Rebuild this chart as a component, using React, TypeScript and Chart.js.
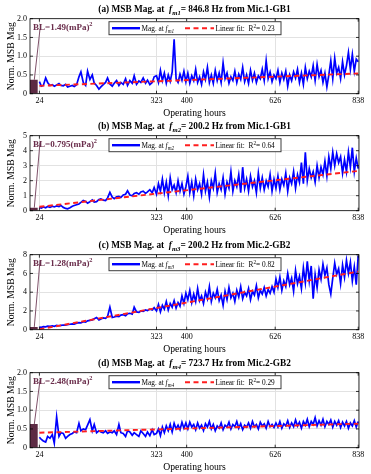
import React, { useEffect, useRef } from "react";
import { Chart, registerables } from "chart.js";
Chart.register(...registerables);

// ---------- data ----------
const HOURS = [
  24, 29, 34, 40, 45, 51, 57, 62, 68, 74,
  79, 85, 91, 96, 102, 108, 113, 119, 125, 130,
  136, 142, 147, 153, 159, 164, 170, 176, 181, 187,
  193, 198, 204, 210, 215, 221, 227, 232, 238, 244,
  249, 255, 261, 266, 272, 278, 283, 289, 295, 300,
  306, 312, 317,
  323, 328, 333, 338, 343, 348, 353, 358, 363, 368,
  373, 378, 383, 388, 393, 398, 403, 408, 413, 418,
  423, 428, 433, 438, 443, 448, 453, 458, 463, 468,
  473, 478, 483, 488, 493, 498, 503, 508, 513, 518,
  523, 528, 533, 538, 543, 548, 553, 558, 563, 568,
  573, 578, 583, 588, 593, 598, 603, 608, 613, 618,
  623, 628, 633, 638, 643, 648, 653, 658, 663, 668,
  673, 678, 683, 688, 693, 698, 703, 708, 713, 718,
  723, 728, 733, 738, 743, 748, 753, 758, 763, 768,
  773, 778, 783, 788, 793, 798, 803, 808, 813, 818,
  823, 828, 833, 838,
];

const MAG_A = [
  0.32, 0.20, 0.22, 0.42, 0.30, 0.22, 0.24, 0.20, 0.23, 0.27,
  0.22, 0.21, 0.25, 0.18, 0.20, 0.22, 0.19, 0.24, 0.45, 0.58,
  0.30, 0.22, 0.60, 0.38, 0.50, 0.28, 0.22, 0.12, 0.18, 0.24,
  0.30, 0.42, 0.26, 0.20, 0.28, 0.35, 0.22, 0.30, 0.25, 0.40,
  0.22, 0.35, 0.28, 0.48, 0.25, 0.34, 0.30, 0.42, 0.28, 0.36,
  0.24, 0.30, 0.45,
  0.48, 0.30, 0.62, 0.35, 0.55, 0.28, 0.50, 0.33, 0.58, 1.45,
  0.40, 0.30, 0.52, 0.36, 0.60, 0.32, 0.55, 0.28, 0.48, 0.35,
  0.65, 0.30, 0.45, 0.25, 0.58, 0.38, 0.70, 0.30, 0.50, 0.28,
  0.62, 0.35, 0.55, 0.30, 0.82, 0.40, 0.55, 0.28, 0.45, 0.35,
  0.60, 0.30, 0.52, 0.38, 0.70, 0.32, 0.50, 0.28, 0.62, 0.36,
  0.55, 0.30, 0.48, 0.40, 0.65, 0.35, 0.88, 0.40, 0.58, 0.32,
  0.50, 0.40, 0.62, 0.30, 0.55, 0.38, 0.60, 0.20, 0.50, 0.35,
  0.58, 0.42, 0.65, 0.30, 0.55, 0.25, 0.70, 0.40, 0.60, 0.45,
  0.75, 0.35, 0.78, 0.45, 0.62, 0.30, 0.55, 0.18, 0.50, 0.88,
  0.40, 0.95, 0.55, 0.70, 0.40, 0.85, 0.50, 0.75, 1.10, 0.65,
  1.05, 0.60, 0.92, 0.85,
];

const MAG_B = [
  0.22, 0.18, 0.25, 0.20, 0.28, 0.22, 0.30, 0.25, 0.32, 0.28,
  0.35, 0.22, 0.15, 0.13, 0.20, 0.30, 0.35, 0.40, 0.45, 0.55,
  0.68, 0.62, 0.50, 0.60, 0.72, 0.57, 0.60, 0.75, 0.79, 0.70,
  0.68, 0.85, 1.22, 0.90, 0.80, 0.92, 0.96, 0.88, 1.05, 1.10,
  1.33, 1.05, 1.00, 1.15, 1.20, 1.10, 1.25, 1.30, 1.15, 1.25,
  1.40, 1.20, 1.55,
  1.10, 1.80, 1.30, 2.10, 1.20, 1.90, 1.00, 2.20, 1.40, 1.70,
  1.20, 2.00, 1.30, 1.80, 1.10, 1.60, 2.30, 1.20, 1.90, 1.00,
  2.10, 1.40, 1.80, 1.10, 2.40, 1.30, 1.90, 0.90, 2.00, 1.50,
  2.50, 1.20, 1.80, 1.40, 2.20, 1.10, 1.90, 1.50, 2.60, 1.30,
  2.00, 1.60, 2.40, 1.20, 2.90, 1.50, 2.10, 1.30, 2.30, 1.60,
  2.00, 1.20, 2.50, 1.50, 2.20, 1.40, 2.00, 1.60, 2.40, 1.30,
  2.10, 1.50, 2.30, 1.40, 2.10, 1.70, 2.50, 1.30, 2.20, 1.80,
  2.60, 1.50, 2.40, 1.90, 3.20, 1.80, 3.90, 2.00, 2.80, 2.20,
  2.60, 1.90, 3.00, 2.20, 2.90, 2.40, 3.30, 2.30, 3.60, 2.80,
  3.90, 3.00, 3.80, 3.20, 3.60, 2.50, 3.40, 2.60, 3.90, 2.90,
  4.20, 2.60, 3.50, 2.80,
];

const MAG_C = [
  0.28, 0.25, 0.32, 0.30, 0.38, 0.35, 0.40, 0.36, 0.45, 0.42,
  0.46, 0.50, 0.48, 0.55, 0.58, 0.62, 0.60, 0.70, 0.75, 0.72,
  0.85, 0.81, 0.95, 1.00, 1.05, 1.17, 1.30, 1.05, 1.15, 1.25,
  1.20, 1.40, 2.40, 1.30, 1.35, 1.45, 1.40, 1.55, 1.60, 1.50,
  1.70, 1.75, 1.65, 2.40, 1.90, 1.85, 2.00, 1.95, 2.10, 2.05,
  2.20, 2.10, 2.35,
  2.0, 2.7, 1.9, 2.6, 2.2, 3.0, 2.1, 2.8, 2.4, 3.1,
  2.3, 2.9, 2.5, 3.6, 2.8, 3.9, 3.2, 4.2, 2.9, 3.8,
  3.0, 4.4, 3.1, 3.6, 2.8, 4.0, 3.3, 4.6, 3.0, 3.9,
  3.4, 4.3, 3.1, 3.7, 2.6, 4.1, 3.2, 4.5, 3.4, 3.9,
  3.0, 4.2, 3.5, 4.6, 3.3, 4.0, 3.6, 4.4, 3.2, 4.1,
  3.7, 4.7, 3.4, 4.2, 3.8, 4.5, 3.6, 4.3, 3.9, 4.6,
  4.0, 5.4, 4.5, 5.6, 4.2, 5.2, 4.6, 6.0, 4.8, 5.5,
  4.1, 6.3, 4.9, 5.7, 4.4, 6.6, 5.0, 7.3, 5.2, 6.8,
  3.3, 5.9, 4.5, 6.4, 5.4, 7.0, 5.8, 6.6, 4.8, 3.8,
  5.5, 7.1, 5.9, 6.5, 4.9, 6.9, 5.6, 7.4, 6.0, 7.2,
  5.2, 6.7, 4.8, 7.9,
];

const MAG_D = [
  0.28, 0.22, 0.18, 0.15, 0.30, 0.25, 0.35, 0.12, 0.82, 0.30,
  0.40, 0.38, 0.25, 0.30, 0.35, 0.38, 0.42, 0.40, 0.65, 0.45,
  0.50, 0.48, 0.60, 0.75, 0.45, 0.62, 0.40, 0.45, 0.42, 0.40,
  0.45, 0.38, 0.42, 0.40, 0.45, 0.35, 0.62, 0.40, 0.38, 0.30,
  0.45, 0.42, 0.33, 0.40, 0.35, 0.30, 0.45, 0.38, 0.30, 0.42,
  0.32, 0.48, 0.35,
  0.38, 0.50, 0.32, 0.55, 0.40, 0.58, 0.45, 0.62, 0.42, 0.65,
  0.50, 0.60, 0.48, 0.68, 0.52, 0.66, 0.50, 0.68, 0.55, 0.62,
  0.48, 0.66, 0.52, 0.60, 0.46, 0.64, 0.55, 0.70, 0.50, 0.62,
  0.45, 0.58, 0.52, 0.66, 0.48, 0.60, 0.55, 0.68, 0.50, 0.62,
  0.56, 0.70, 0.52, 0.64, 0.48, 0.60, 0.55, 0.66, 0.52, 0.70,
  0.56, 0.62, 0.50, 0.68, 0.58, 0.64, 0.52, 0.70, 0.56, 0.62,
  0.54, 0.66, 0.55, 0.70, 0.52, 0.64, 0.58, 0.72, 0.54, 0.66,
  0.56, 0.74, 0.58, 0.68, 0.52, 0.70, 0.60, 0.76, 0.56, 0.70,
  0.62, 0.80, 0.58, 0.72, 0.60, 0.76, 0.56, 0.70, 0.62, 0.74,
  0.55, 0.70, 0.60, 0.72, 0.54, 0.68, 0.58, 0.70, 0.52, 0.66,
  0.58, 0.72, 0.55, 0.70,
];

const FIT_HOURS = [24, 838];
const FIT_A = [0.21, 0.54];
const FIT_B = [0.26, 2.65];
const FIT_C = [0.05, 6.2];
const FIT_D = [0.4, 0.64];

const BL_HOURS = [0, 20];
const BL_BAR = [0.37, 0.2, 0.3, 0.63];
const BL_LINE_HOURS = [11, 25.5];
const BL_LINE_TOP = [1.72, 4.55, 7.35, 1.8];
const BL_VALUES = ["1.49", "0.795", "1.28", "2.48"];

const LETTERS = ["a", "b", "c", "d"];
const FREQS = ["846.8", "200.2", "200.2", "723.7"];
const MICS = ["Mic.1-GB1", "Mic.1-GB1", "Mic.2-GB2", "Mic.2-GB2"];
const R2 = ["0.23", "0.64", "0.82", "0.29"];

const XTICKS = [24, 323, 400, 626, 838];
const Y_MAX = [2, 5, 8, 2];
const Y_STEP = [0.5, 1, 2, 0.5];

const SERIES = [MAG_A, MAG_B, MAG_C, MAG_D];
const FITS = [FIT_A, FIT_B, FIT_C, FIT_D];

// ---------- drawing helpers ----------
const SERIF = '"Liberation Serif", "Times New Roman", serif';
const fnt = (size: number, style = "") => `${style} ${size}px ${SERIF}`.trim();

type Seg = { t: string; f: string; dy?: number };
function drawRich(ctx: CanvasRenderingContext2D, segs: Seg[], x: number, y: number, align: "left" | "center", color: string) {
  let w = 0;
  for (const s of segs) {
    ctx.font = s.f;
    w += ctx.measureText(s.t).width;
  }
  let cx = align === "center" ? x - w / 2 : x;
  ctx.fillStyle = color;
  ctx.textAlign = "left";
  ctx.textBaseline = "alphabetic";
  for (const s of segs) {
    ctx.font = s.f;
    ctx.fillText(s.t, cx, y + (s.dy || 0));
    cx += ctx.measureText(s.t).width;
  }
}

const CANVAS_W = 371;
const CANVAS_H = 118;
const CANVAS_TOPS = [0, 117, 236, 354];
const PLOT_TOP = 18.7;
const PLOT_BOTTOM = 93.7;

function makeDecor(p: number) {
  return {
    id: "decor" + p,
    afterDraw(chart: any) {
      const { ctx, chartArea: ca, scales } = chart;
      const xs = scales.x;
      const ys = scales.y;
      ctx.save();
      // box
      ctx.strokeStyle = "#000";
      ctx.lineWidth = 0.8;
      ctx.strokeRect(ca.left, ca.top, ca.right - ca.left, ca.bottom - ca.top);
      // inward tick marks
      ctx.beginPath();
      for (const v of XTICKS) {
        const px = xs.getPixelForValue(v);
        ctx.moveTo(px, ca.bottom);
        ctx.lineTo(px, ca.bottom - 3);
        ctx.moveTo(px, ca.top);
        ctx.lineTo(px, ca.top + 3);
      }
      for (const t of ys.ticks) {
        const py = ys.getPixelForValue(t.value);
        ctx.moveTo(ca.left, py);
        ctx.lineTo(ca.left + 3, py);
        ctx.moveTo(ca.right, py);
        ctx.lineTo(ca.right - 3, py);
      }
      ctx.stroke();

      const midX = (ca.left + ca.right) / 2;
      // title
      drawRich(
        ctx,
        [
          { t: `(${LETTERS[p]}) MSB Mag. at  `, f: fnt(9.3, "bold") },
          { t: "f", f: fnt(9.3, "italic bold") },
          { t: `m${p + 1}`, f: fnt(6.7, "italic bold"), dy: 2.5 },
          { t: `= ${FREQS[p]} Hz from ${MICS[p]}`, f: fnt(9.3, "bold") },
        ],
        midX,
        ca.top - 6.5,
        "center",
        "#000"
      );
      // axis titles
      ctx.fillStyle = "#000";
      ctx.font = fnt(9.7);
      ctx.textAlign = "center";
      ctx.textBaseline = "middle";
      ctx.fillText("Operating hours", midX, ca.bottom + 19.5);
      ctx.save();
      ctx.translate(11.7, (ca.top + ca.bottom) / 2);
      ctx.rotate(-Math.PI / 2);
      ctx.fillText("Norm. MSB Mag", 0, 0);
      ctx.restore();

      // BL annotation text
      drawRich(
        ctx,
        [
          { t: `BL=${BL_VALUES[p]}(mPa)`, f: fnt(9, "bold") },
          { t: "2", f: fnt(6.3, "bold"), dy: -4.2 },
        ],
        33,
        ca.top + 11.3,
        "left",
        "#6a2d4b"
      );

      // legend
      const lx = 109;
      const ly = ca.top + 3;
      const lw = 172;
      const lh = 13;
      ctx.fillStyle = "#fff";
      ctx.fillRect(lx, ly, lw, lh);
      ctx.strokeStyle = "#3c3c3c";
      ctx.lineWidth = 1;
      ctx.strokeRect(lx, ly, lw, lh);
      const my = ly + lh / 2;
      ctx.beginPath();
      ctx.strokeStyle = "#0000ff";
      ctx.lineWidth = 2.4;
      ctx.moveTo(lx + 3, my);
      ctx.lineTo(lx + 31, my);
      ctx.stroke();
      drawRich(
        ctx,
        [
          { t: "Mag. at ", f: fnt(7.3) },
          { t: "f", f: fnt(7.3, "italic") },
          { t: `m${p + 1}`, f: fnt(5.3, "italic"), dy: 2 },
        ],
        lx + 32.5,
        my + 2.6,
        "left",
        "#000"
      );
      ctx.beginPath();
      ctx.strokeStyle = "#ff1f1f";
      ctx.lineWidth = 2;
      ctx.setLineDash([5, 3.5]);
      ctx.moveTo(lx + 76, my);
      ctx.lineTo(lx + 105, my);
      ctx.stroke();
      ctx.setLineDash([]);
      drawRich(
        ctx,
        [
          { t: "Linear fit:  R", f: fnt(7.3) },
          { t: "2", f: fnt(5.3), dy: -3 },
          { t: `= ${R2[p]}`, f: fnt(7.3) },
        ],
        lx + 106.5,
        my + 2.6,
        "left",
        "#000"
      );
      ctx.restore();
    },
  };
}

function Panel({ p }: { p: number }) {
  const ref = useRef<HTMLCanvasElement | null>(null);
  useEffect(() => {
    if (!ref.current) return;
    const mag = SERIES[p];
    const fit = FITS[p];
    const chart = new Chart(ref.current, {
      type: "line",
      data: {
        datasets: [
          {
            label: "Linear fit",
            data: FIT_HOURS.map((h, i) => ({ x: h, y: fit[i] })),
            borderColor: "#ff1f1f",
            borderWidth: 1.9,
            borderDash: [5, 3.5],
            pointRadius: 0,
            fill: false,
            order: 0,
          },
          {
            label: "Mag",
            data: HOURS.map((h, i) => ({ x: h, y: mag[i] })).filter((d) => d.y !== undefined),
            borderColor: "#0000ff",
            borderWidth: 1.7,
            pointRadius: 0,
            tension: 0,
            fill: false,
            order: 1,
          },
          {
            label: "BL pointer",
            data: BL_LINE_HOURS.map((h, i) => ({ x: h, y: i === 0 ? BL_BAR[p] : BL_LINE_TOP[p] })),
            borderColor: "#7e5169",
            borderWidth: 1,
            pointRadius: 0,
            fill: false,
            order: 2,
          },
          {
            label: "BL",
            data: BL_HOURS.map((h) => ({ x: h, y: BL_BAR[p] })),
            borderWidth: 0,
            borderColor: "rgba(0,0,0,0)",
            backgroundColor: "#5c2a43",
            pointRadius: 0,
            fill: "origin",
            order: 3,
          },
        ],
      },
      options: {
        responsive: false,
        animation: false,
        devicePixelRatio: 1,
        events: [],
        layout: { padding: { top: PLOT_TOP, left: 8, right: 12, bottom: 0 } },
        plugins: {
          legend: { display: false },
          title: { display: false },
          tooltip: { enabled: false },
        },
        scales: {
          x: {
            type: "linear",
            min: 0,
            max: 840,
            afterBuildTicks: (s: any) => {
              s.ticks = XTICKS.map((v) => ({ value: v }));
            },
            afterFit: (s: any) => {
              s.height = CANVAS_H - PLOT_BOTTOM;
            },
            ticks: {
              font: { family: SERIF, size: 8 },
              color: "#000",
              padding: 2,
              maxRotation: 0,
              autoSkip: false,
              callback: (v: any) => String(v),
            },
            grid: { color: "#e2e2e2", drawTicks: false, lineWidth: 1 },
            border: { display: false },
          },
          y: {
            min: 0,
            max: Y_MAX[p],
            afterFit: (s: any) => {
              s.width = 22;
            },
            ticks: {
              stepSize: Y_STEP[p],
              font: { family: SERIF, size: 8 },
              color: "#000",
              padding: 3,
            },
            grid: { color: "#e2e2e2", drawTicks: false, lineWidth: 1 },
            border: { display: false },
          },
        },
      } as any,
      plugins: [makeDecor(p)],
    });
    return () => chart.destroy();
  }, [p]);
  return (
    <canvas
      ref={ref}
      width={CANVAS_W}
      height={CANVAS_H}
      style={{ position: "absolute", left: 0, top: CANVAS_TOPS[p], width: CANVAS_W, height: CANVAS_H }}
    />
  );
}

export default function App() {
  return (
    <div
      style={{
        position: "fixed",
        left: 0,
        top: 0,
        width: 371,
        height: 474,
        background: "#fff",
        overflow: "hidden",
      }}
    >
      {[0, 1, 2, 3].map((p) => (
        <Panel key={p} p={p} />
      ))}
    </div>
  );
}
